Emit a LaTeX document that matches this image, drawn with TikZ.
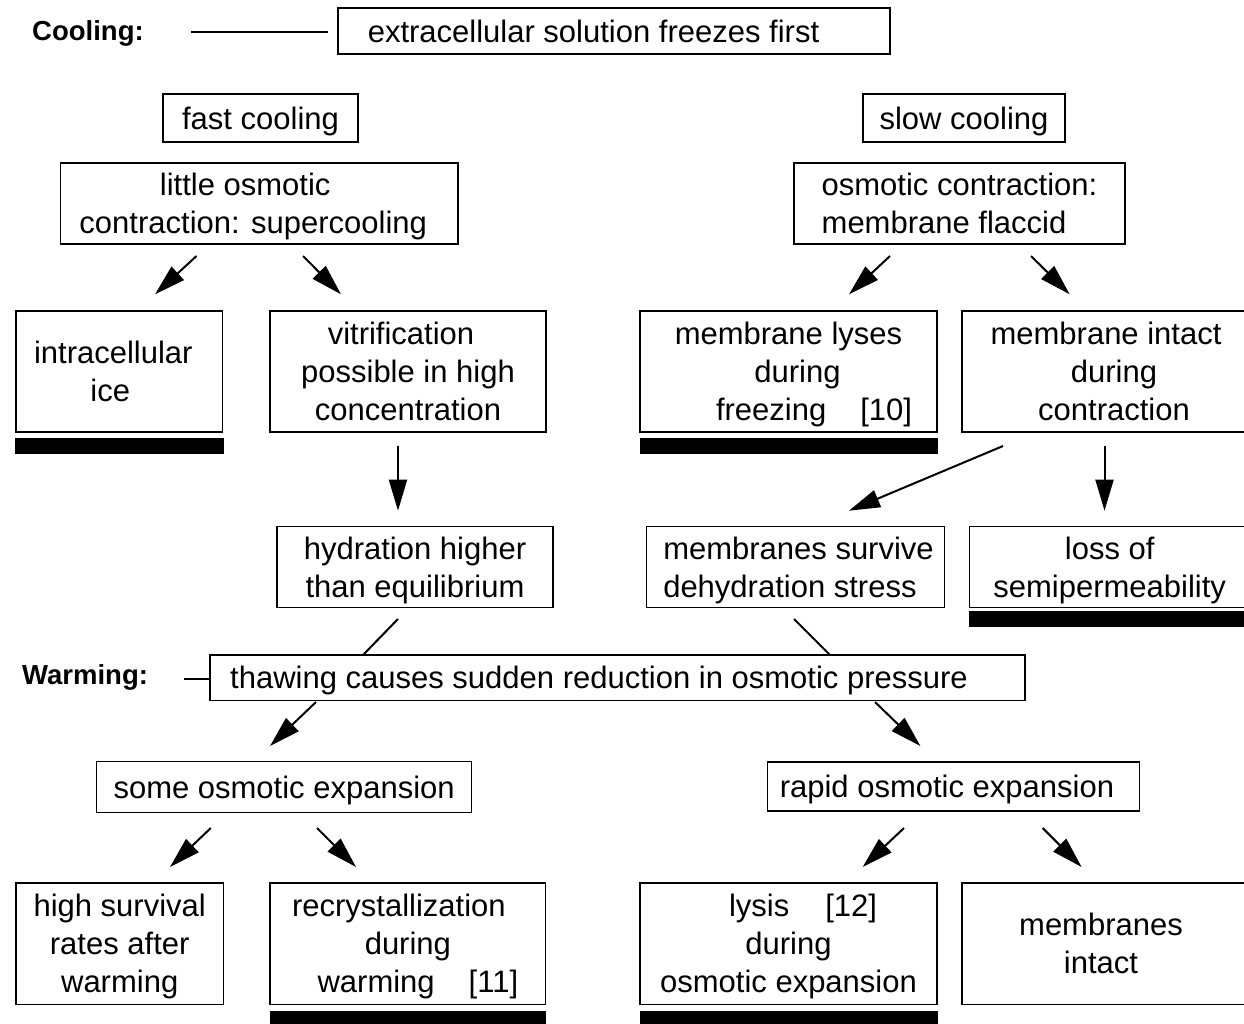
\documentclass[tikz,border=0pt]{standalone}
\usepackage{fontspec}
\setmainfont{Liberation Sans}
\usetikzlibrary{arrows.meta}
\newcommand{\ls}{\rule[-8pt]{0pt}{38pt}}
\begin{document}
\begin{tikzpicture}[x=1pt,y=-1pt,
  box/.style={draw, line width=1.4pt, inner sep=0pt, align=center, font=\fontsize{31}{38}\selectfont},
  lbl/.style={font=\bfseries\fontsize{27.5}{32}\selectfont, inner sep=0pt, anchor=base west},
  bar/.style={fill=black, draw=none, inner sep=0pt, anchor=north west},
  arr/.style={line width=2pt, -{Triangle[length=31pt,width=18pt]}},
  ln/.style={line width=2pt}]
\useasboundingbox (0,0) rectangle (1244,1023);
\fill[white] (0,0) rectangle (1244,1023);
\clip (0,0) rectangle (1244,1023);

% labels
\node[lbl] (cool) at (32,40.5) {Cooling:};
\node[lbl] (warm) at (22,684.5) {Warming:};

% boxes
\node[box, minimum width=552pt, minimum height=46pt] (top) at (614,31) {\ls extracellular solution freezes first\hspace*{41pt}};
\node[box, minimum width=195pt, minimum height=48pt] (fast) at (260.5,118) {\ls fast cooling};
\node[box, minimum width=397.5pt, minimum height=81pt] (little) at (259.25,203.5) {\ls little osmotic\hspace*{28pt}\\\ls contraction: supercooling\hspace*{12pt}};
\node[box, minimum width=202pt, minimum height=48pt] (slow) at (964,118) {\ls slow cooling};
\node[box, align=left, minimum width=331pt, minimum height=81pt] (osmcon) at (959.5,203.5) {\ls osmotic contraction:\\\ls membrane flaccid};

\node[box, minimum width=206.6pt, minimum height=121pt] (ice) at (119.3,371.5) {\ls intracellular\hspace*{12pt}\\\ls ice\hspace*{18pt}};
\node[box, minimum width=276pt, minimum height=121pt] (vitri) at (408,371.5) {\ls vitrification\hspace*{14pt}\\\ls possible in high\\\ls concentration};
\node[box, minimum width=297pt, minimum height=121pt] (lyses) at (788.5,371.5) {\ls membrane lyses\\\ls\hspace*{18pt}during\\\ls\hspace*{51pt}freezing\hspace{34pt}[10]};
\node[box, minimum width=304pt, minimum height=121pt] (intact) at (1114,371.5) {\ls membrane intact\hspace*{16pt}\\\ls during\\\ls contraction};

\node[box, minimum width=276pt, minimum height=81pt] (hydr) at (415,567) {\ls hydration higher\\\ls than equilibrium};
\node[box, align=left, minimum width=297.6pt, minimum height=81pt] (surv) at (795.5,567) {\ls\hspace*{6pt}membranes survive\\\ls\hspace*{6pt}dehydration stress};
\node[box, minimum width=280.6pt, minimum height=81pt] (loss) at (1109.7,567) {\ls loss of\\\ls semipermeability};

\node[box, minimum width=815pt, minimum height=45.6pt] (thaw) at (617.5,677.8) {\ls thawing causes sudden reduction in osmotic pressure\hspace*{37pt}};

\node[box, minimum width=375.2pt, minimum height=51pt] (some) at (284.1,787.1) {\ls some osmotic expansion};
\node[box, minimum width=371.7pt, minimum height=49pt] (rapid) at (953.45,786.3) {\ls rapid osmotic expansion\hspace*{13pt}};

\node[box, minimum width=207.4pt, minimum height=121.7pt] (high) at (119.7,943.85) {\ls high survival\\\ls rates after\\\ls warming};
\node[box, minimum width=275.7pt, minimum height=121.7pt] (recr) at (407.85,943.85) {\ls recrystallization\hspace*{18pt}\\\ls during\hspace*{18pt}\\\ls\hspace*{20pt}warming\hspace{34pt}[11]};
\node[box, minimum width=297pt, minimum height=121.7pt] (lysis) at (788.5,943.85) {\ls\hspace*{29pt}lysis\hspace{36pt}[12]\\\ls during\\\ls osmotic expansion};
\node[box, minimum width=288pt, minimum height=121.7pt] (memint) at (1106,943.85) {\ls membranes\hspace*{10pt}\\\ls intact\hspace*{10pt}};

% black bars
\node[bar, minimum width=209pt, minimum height=16pt] (bar1) at (15,438) {};
\node[bar, minimum width=298pt, minimum height=16pt] (bar2) at (640,438) {};
\node[bar, minimum width=281pt, minimum height=16pt] (bar3) at (969,611) {};
\node[bar, minimum width=276pt, minimum height=20pt] (bar4) at (270,1010.5) {};
\node[bar, minimum width=298pt, minimum height=20pt] (bar5) at (640,1010.5) {};

% arrow endpoints
\coordinate (c1) at (191,32.3);   \coordinate (c2) at (328,32.3);
\coordinate (w1) at (184,678.7);
\coordinate (a1s) at (196.5,256); \coordinate (a1e) at (155,294.3);
\coordinate (a2s) at (303,256);   \coordinate (a2e) at (341,294.3);
\coordinate (a3s) at (890,256);   \coordinate (a3e) at (849,294.3);
\coordinate (a4s) at (1031,256);  \coordinate (a4e) at (1069.7,294.3);
\coordinate (a5s) at (398,446);   \coordinate (a5e) at (398,510.7);
\coordinate (a6s) at (1003,446);  \coordinate (a6e) at (849,510.7);
\coordinate (a7s) at (1104.5,446);\coordinate (a7e) at (1104.5,510.7);
\coordinate (l1s) at (398,619);   \coordinate (l1e) at (363,655);
\coordinate (l2s) at (794,619);   \coordinate (l2e) at (830,655);
\coordinate (a8s) at (316,702);   \coordinate (a8e) at (270,746);
\coordinate (a9s) at (875,702);   \coordinate (a9e) at (920.4,746);
\coordinate (b1s) at (210.8,828); \coordinate (b1e) at (170,867);
\coordinate (b2s) at (317,828);   \coordinate (b2e) at (356,867);
\coordinate (b3s) at (904,828);   \coordinate (b3e) at (862.7,867);
\coordinate (b4s) at (1042.6,828);\coordinate (b4e) at (1081.6,867);

% connectors
\draw[ln] (c1) -- (c2);
\draw[ln] (w1) -- (thaw.west |- w1);
\draw[arr] (a1s) -- (a1e);
\draw[arr] (a2s) -- (a2e);
\draw[arr] (a3s) -- (a3e);
\draw[arr] (a4s) -- (a4e);
\draw[arr] (a5s) -- (a5e);
\draw[arr] (a6s) -- (a6e);
\draw[arr] (a7s) -- (a7e);
\draw[ln] (l1s) -- (l1e);
\draw[ln] (l2s) -- (l2e);
\draw[arr] (a8s) -- (a8e);
\draw[arr] (a9s) -- (a9e);
\draw[arr] (b1s) -- (b1e);
\draw[arr] (b2s) -- (b2e);
\draw[arr] (b3s) -- (b3e);
\draw[arr] (b4s) -- (b4e);
\end{tikzpicture}
\end{document}
